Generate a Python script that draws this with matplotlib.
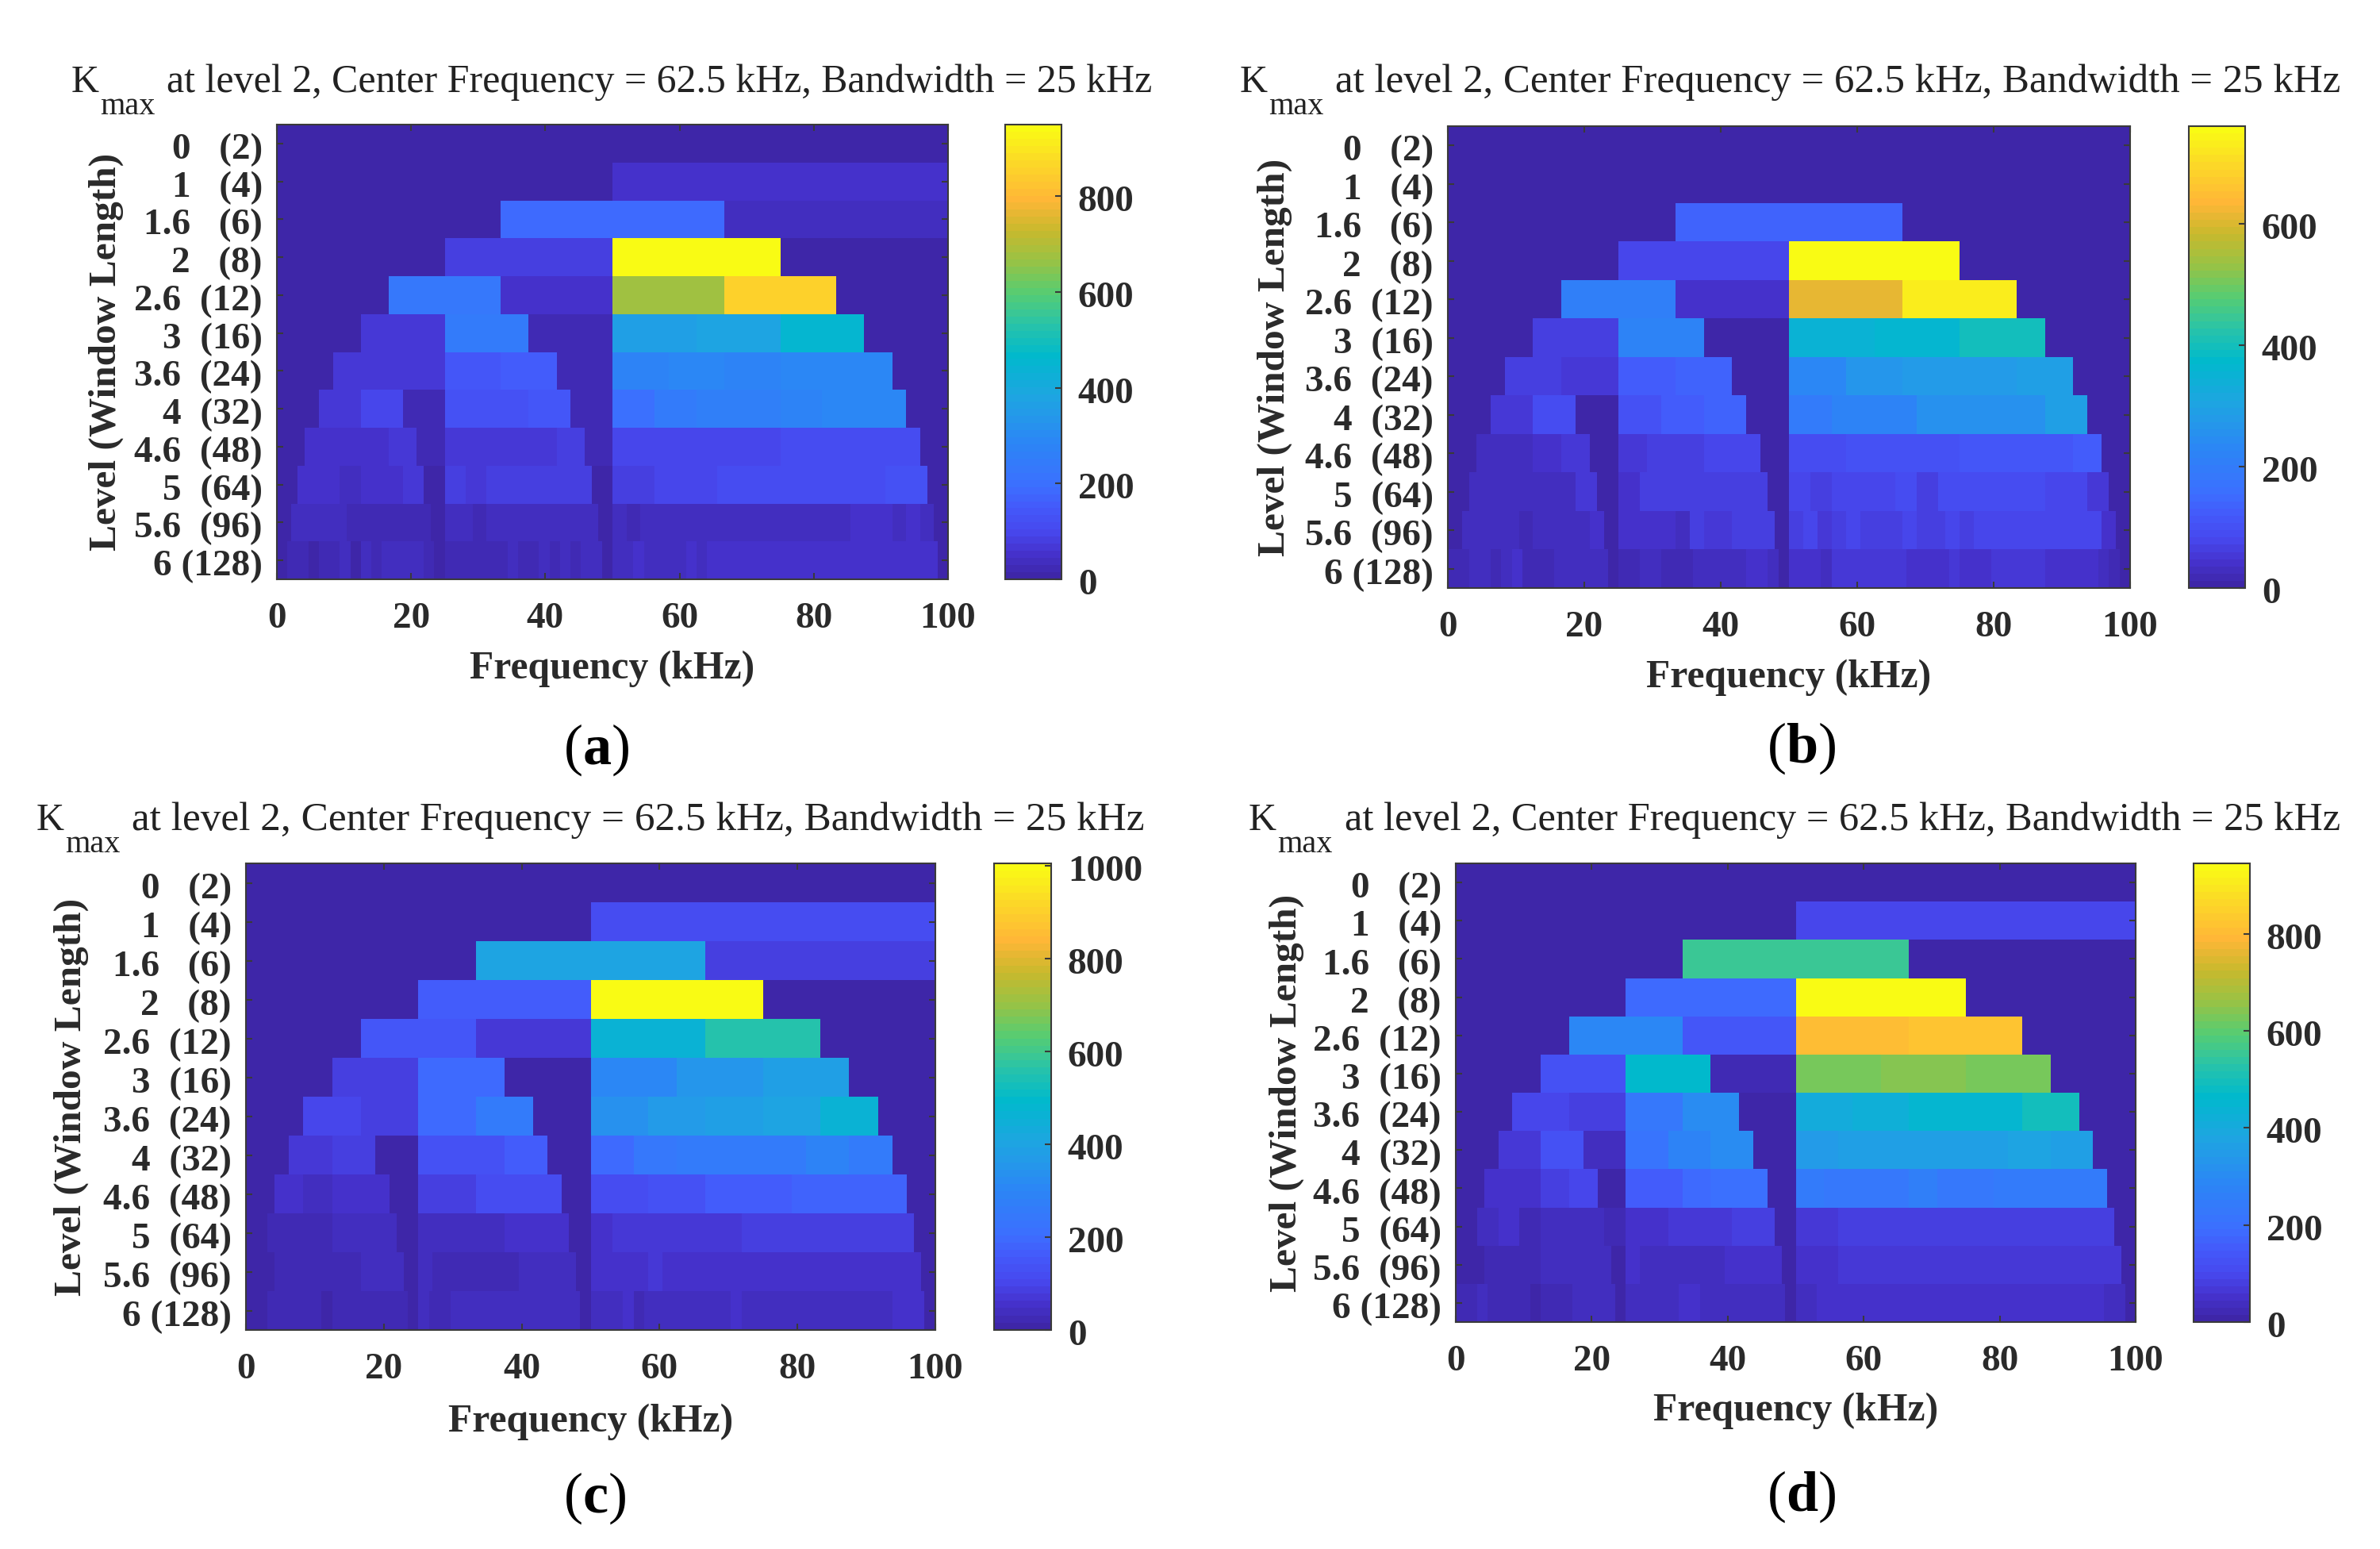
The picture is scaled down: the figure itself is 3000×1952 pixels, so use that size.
import numpy as np
import matplotlib
matplotlib.use('Agg')
import matplotlib.pyplot as plt
from matplotlib.colors import LinearSegmentedColormap
from matplotlib.transforms import ScaledTranslation

plt.rcParams['font.family'] = ['Liberation Serif', 'DejaVu Serif']
plt.rcParams['mathtext.fontset'] = 'custom'
plt.rcParams['mathtext.rm'] = 'Liberation Serif'
plt.rcParams['mathtext.bf'] = 'Liberation Serif:bold'

W, H = 3000, 1952

level_labels = ['0   (2)', '1   (4)', '1.6   (6)', '2   (8)', '2.6  (12)', '3  (16)',
                '3.6  (24)', '4  (32)', '4.6  (48)', '5  (64)', '5.6  (96)', '6 (128)']

# kurtogram rows, one list per level
kurt_a = [
    [5],
    [5, 50],
    [5, 185, 40],
    [5, 85, 950, 10],
    [5, 235, 55, 670, 850, 10],
    [5, 70, 240, 15, 360, 380, 450, 10],
    [5, 70, 60, 135, 160, 15, 270, 285, 280, 295, 295, 8],
    [5, 65, 95, 15, 125, 125, 140, 15, 195, 245, 260, 265, 280, 285, 285, 8],
    [5, 45, 45, 50, 65, 15, 65, 65, 70, 70, 75, 15, 90, 100, 100, 100, 100, 100, 110, 110, 110, 110, 110, 8],
    [5, 45, 45, 35, 50, 50, 65, 10, 80, 65, 75, 75, 85, 85, 85, 10,
     85, 85, 100, 100, 100] + [115]*8 + [125, 120, 8],
    [5] + [30]*4 + [20] + [28]*5 + [12] + [30, 30, 22] + [32]*8 + [12] +
    [40, 25] + [33]*15 + [50]*3 + [38, 48, 42, 12],
    [5, 25, 25, 12, 25, 25, 35, 12, 32, 20, 32, 32, 32, 32, 20, 12] +
    [22]*3 + [25]*3 + [35, 25, 25, 35, 25, 33, 25, 37, 37, 12] +
    [42, 42, 52] + [35]*4 + [45, 35] + [50]*22 + [12],
]
kurt_b = [
    [3],
    [3, 3],
    [3, 135, 3],
    [3, 75, 760, 3],
    [3, 205, 40, 610, 735, 3],
    [3, 65, 225, 8, 345, 365, 395, 3],
    [3, 62, 48, 120, 140, 8, 230, 265, 275, 275, 290, 3],
    [3, 55, 85, 10, 105, 120, 135, 8, 200, 220, 225, 250, 250, 255, 285, 3],
    [3, 35, 28, 45, 50, 8, 55, 62, 62, 72, 72, 8, 90, 90, 105, 105, 105, 105, 110, 110, 110, 115, 120, 5],
    [3, 35, 35, 35, 30, 30, 48, 8, 45, 60, 60, 60, 60, 60, 70, 8,
     80, 65, 72, 72, 72, 85, 70, 88, 88, 88, 88, 88, 78, 78, 58, 5],
    [3, 28, 28, 28, 32, 20, 25, 33, 33, 33, 45, 8] +
    [40]*4 + [25, 62, 50, 50, 60, 60, 70, 8] +
    [62, 72, 58, 70, 78, 65, 65, 65, 72, 62, 62, 72, 62] + [78]*9 + [45, 5],
    [15, 15, 30, 30, 18, 25, 38, 12, 18, 18] + [30]*5 + [10] +
    [22, 22, 30, 30, 22, 22, 22] + [30]*5 + [42, 42, 30, 8] +
    [45]*3 + [32] + [48]*6 + [55] + [42]*4 + [55] + [42]*3 + [52]*5 + [45]*5 + [25, 22, 5],
]
kurt_c = [
    [5],
    [5, 115],
    [5, 400, 85],
    [5, 170, 1005, 5],
    [5, 150, 70, 470, 560, 5],
    [5, 85, 190, 10, 310, 350, 380, 5],
    [5, 100, 85, 200, 260, 8, 340, 375, 390, 395, 460, 5],
    [5, 75, 90, 15, 130, 140, 165, 8, 200, 240, 260, 260, 265, 290, 265, 5],
    [5, 62, 35, 48, 60, 8, 85, 90, 110, 110, 120, 8, 115, 125, 140, 140, 160, 160, 160, 185, 185, 185, 185, 5],
    [5, 30, 30, 30, 38, 38, 38, 8, 42, 42, 42, 42, 55, 55, 55, 8,
     60] + [72]*6 + [85]*8 + [5],
    [12, 12, 25, 25, 25, 25, 22, 22, 38, 38, 38, 8, 45] + [28]*6 + [42]*4 + [8] +
    [55]*4 + [70, 48] + [62]*17 + [5],
    [15, 15] + [28]*5 + [15] + [25]*7 + [8] + [40, 25, 25] + [32]*12 + [8] +
    [35]*3 + [55, 25] + [38]*8 + [50] + [35]*14 + [55]*3 + [5],
]
kurt_d = [
    [3],
    [3, 90],
    [3, 560, 5],
    [3, 190, 945, 5],
    [3, 285, 145, 800, 815, 3],
    [3, 130, 460, 15, 625, 645, 625, 3],
    [3, 95, 85, 225, 300, 12, 410, 425, 445, 450, 490, 3],
    [3, 60, 130, 30, 210, 270, 300, 12, 340, 365, 365, 365, 365, 375, 365, 3],
    [3, 52, 52, 78, 95, 12, 150, 155, 180, 195, 205, 8, 250, 235, 235, 235, 265, 235, 235, 250, 250, 250, 250, 5],
    [12, 38, 48, 25, 30, 42, 42, 15, 45, 45, 62, 62, 62, 78, 78, 8,
     70, 70] + [88]*13 + [5],
    [12, 12, 28, 28, 28, 28, 32, 32, 32, 32, 32, 10, 50] + [36]*6 + [50]*4 + [8] +
    [52]*3 + [70]*20 + [5],
    [15, 15, 32, 15, 28, 28, 28, 12, 15, 15, 15, 30, 30, 30, 35, 10] +
    [36]*5 + [48, 48, 30] + [42]*7 + [10] + [42, 42] + [58]*27 + [35, 35, 5],
]
kurt_all = [kurt_a, kurt_b, kurt_c, kurt_d]
vmax_all = [950, 760, 1005, 945]
cbar_ticks = [[0, 200, 400, 600, 800], [0, 200, 400, 600],
              [0, 200, 400, 600, 800, 1000], [0, 200, 400, 600, 800]]
panel_names = ['a', 'b', 'c', 'd']

# parula, sampled by eye from the colorbars
parula_pos = [0, .05, .1, .15, .2, .3, .4, .49, .56, .63, .7, .77, .84, .92, 1]
parula_rgb = [(62, 38, 168), (69, 50, 205), (71, 72, 238), (68, 88, 250), (60, 110, 255),
              (43, 135, 245), (30, 165, 225), (0, 185, 205), (40, 195, 170), (85, 205, 115),
              (150, 195, 70), (200, 185, 45), (255, 182, 55), (252, 215, 40), (249, 251, 20)]
parula = LinearSegmentedColormap.from_list(
    'parula', [(p, tuple(c/255 for c in rgb)) for p, rgb in zip(parula_pos, parula_rgb)], N=64)

# pixel boxes: axes (x0, x1, y0, y1) and colorbar (x0, x1)
ax_box = [(349, 1195, 157, 730), (1825, 2685, 159, 741), (310, 1179, 1088, 1676), (1835, 2692, 1088, 1666)]
cb_box = [(1267, 1338), (2759, 2830), (1253, 1325), (2765, 2836)]
title_k = [(90, 104), (1563, 104), (46, 1034), (1574, 1034)]
title_x = [210, 1683, 166, 1695]
title_fs = [35.9, 36.6, 36.9, 36.3]
ylabel_x = [134, 1607, 90, 1622]
xlabel_y = [843, 854, 1792, 1778]
letter_pos = [(752, 945), (2271, 943), (750, 1888), (2271, 1886)]

edge = '#3a3a3a'
tick_fs = 34
fig = plt.figure(figsize=(W/100, H/100), dpi=100)
nudge = ScaledTranslation(0, -3/100, fig.dpi_scale_trans)


def to_rect(x0, x1, y0, y1):
    return [x0/W, 1 - y1/H, (x1 - x0)/W, (y1 - y0)/H]


for i in range(4):
    x0, x1, y0, y1 = ax_box[i]
    ax = fig.add_axes(to_rect(x0, x1, y0, y1))
    # each level has its own number of bins
    for j, row in enumerate(kurt_all[i]):
        edges = np.linspace(0, 100, len(row) + 1)
        mesh = ax.pcolormesh(edges, [j, j + 1], np.array([row]), cmap=parula,
                             vmin=0, vmax=vmax_all[i], antialiased=False)
    ax.set_xlim(0, 100)
    ax.set_ylim(12, 0)
    ax.set_xticks(np.arange(0, 101, 20))
    ax.set_yticks(np.arange(12) + 0.5)
    ax.set_yticklabels(level_labels)
    ax.tick_params(axis='both', direction='in', length=6, width=1.5, color=edge,
                   top=True, right=True, labelsize=tick_fs, labelcolor='#2a2a2a')
    ax.tick_params(axis='x', pad=21)
    ax.tick_params(axis='y', pad=13)
    for lab in ax.get_xticklabels() + ax.get_yticklabels():
        lab.set_fontweight('bold')
    for lab in ax.get_yticklabels():
        lab.set_transform(lab.get_transform() + nudge)
    for s in ax.spines.values():
        s.set_color(edge)
        s.set_linewidth(1.5)

    # colorbar
    cx0, cx1 = cb_box[i]
    cax = fig.add_axes(to_rect(cx0, cx1, y0, y1))
    cb = fig.colorbar(mesh, cax=cax)
    cb.set_ticks(cbar_ticks[i])
    cb.ax.tick_params(direction='in', length=6, width=1.5, color=edge,
                      labelsize=tick_fs, labelcolor='#2a2a2a', pad=15)
    for lab in cb.ax.get_yticklabels():
        lab.set_fontweight('bold')
        lab.set_transform(lab.get_transform() + nudge)
    cb.outline.set_edgecolor(edge)
    cb.outline.set_linewidth(1.5)

    # title, with the subscript placed by hand
    kx, ky = title_k[i]
    fig.text(kx/W, 1 - ky/H, 'K', fontsize=35, color='#222222', ha='left', va='center')
    fig.text((kx + 36)/W, 1 - (ky + 30)/H, 'max', fontsize=29, color='#222222', ha='left', va='center')
    fig.text(title_x[i]/W, 1 - ky/H, 'at level 2, Center Frequency = 62.5 kHz, Bandwidth = 25 kHz',
             fontsize=title_fs[i], color='#222222', ha='left', va='center')

    fig.text(ylabel_x[i]/W, 1 - (y0 + y1)/2/H, 'Level (Window Length)', rotation=90, fontsize=35.6,
             fontweight='bold', color='#2a2a2a', ha='center', va='center')
    fig.text((x0 + x1)/2/W, 1 - xlabel_y[i]/H, 'Frequency (kHz)', fontsize=35.7,
             fontweight='bold', color='#2a2a2a', ha='center', va='center')
    lx, ly = letter_pos[i]
    fig.text(lx/W, 1 - ly/H, '($\\mathbf{%s}$)' % panel_names[i], fontsize=52, color='black',
             ha='center', va='center')

fig.savefig('out.png', dpi=100, facecolor='white')
